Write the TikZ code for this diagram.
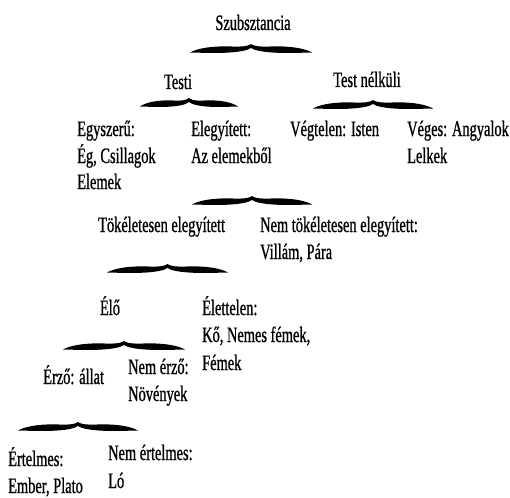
\documentclass[tikz,border=0pt]{standalone}
\usepackage{fontspec}
\setmainfont[FakeStretch=0.655,FakeBold=0.8]{Liberation Serif}
\newcommand{\swbrace}[3]{%
  \fill[shift={(#1,#3)}, xscale={(#2)-(#1)}, yscale=-1]
    (0,-2.5) .. controls (0.05,1) and (0.15,3.6) .. (0.28,3.6)
    .. controls (0.38,3.6) and (0.46,2.5) .. (0.5,6)
    .. controls (0.54,2.5) and (0.62,3.6) .. (0.72,3.6)
    .. controls (0.85,3.6) and (0.95,1) .. (1,-2.5)
    .. controls (0.92,-2.7) and (0.82,-3.2) .. (0.72,-2.8)
    .. controls (0.6,-2.2) and (0.53,-0.5) .. (0.5,2)
    .. controls (0.47,-0.5) and (0.4,-2.2) .. (0.28,-2.8)
    .. controls (0.18,-3.2) and (0.08,-2.7) .. (0,-2.5) -- cycle;}
\begin{document}
\begin{tikzpicture}[x=1pt,y=-1pt,
  lbl/.style={anchor=base west, inner sep=0pt, font=\fontsize{22}{27}\selectfont},
  ctr/.style={lbl, anchor=base}]
\useasboundingbox (0,0) rectangle (510,497);
\node[ctr] (szub) at (253,30) {Szubsztancia};
\node[ctr] (testi) at (178,89) {Testi};
\node[ctr] (testnk) at (367,87) {Test nélküli};
\node[lbl] (egysz) at (77,136) {Egyszerű:};
\node[lbl] (eg) at (77,163) {Ég, Csillagok};
\node[lbl] (elemek) at (77,189) {Elemek};
\node[lbl] (elegy) at (191,136) {Elegyített:};
\node[lbl] (azelem) at (191,163) {Az elemekből};
\node[lbl] (vegtelen) at (290,136) {Végtelen: Isten};
\node[lbl] (veges) at (407,136) {Véges: Angyalok};
\node[lbl] (lelkek) at (407,163) {Lelkek};
\node[lbl] (tok) at (98,232) {Tökéletesen elegyített};
\node[lbl] (nemtok) at (260,232) {Nem tökéletesen elegyített:};
\node[lbl] (villam) at (260,259) {Villám, Pára};
\node[ctr] (elo) at (110,315) {Élő};
\node[lbl] (elettelen) at (202,315) {Élettelen:};
\node[lbl] (ko) at (202,342) {Kő, Nemes fémek,};
\node[lbl] (femek) at (202,370) {Fémek};
\node[lbl] (erzo) at (43,384) {Érző: állat};
\node[lbl] (nemerzo) at (128,374) {Nem érző:};
\node[lbl] (noveny) at (128,401) {Növények};
\node[lbl] (ertelmes) at (8,466) {Értelmes:};
\node[lbl] (ember) at (8,493) {Ember, Plato};
\node[lbl] (nemert) at (108,460) {Nem értelmes:};
\node[lbl] (lo) at (108,488) {Ló};
\swbrace{190}{312}{50}
\swbrace{140}{238}{104}
\swbrace{313}{433}{106}
\swbrace{192}{312}{202}
\swbrace{107}{228}{270}
\swbrace{63}{185}{347}
\swbrace{18}{138}{428}
\end{tikzpicture}
\end{document}
